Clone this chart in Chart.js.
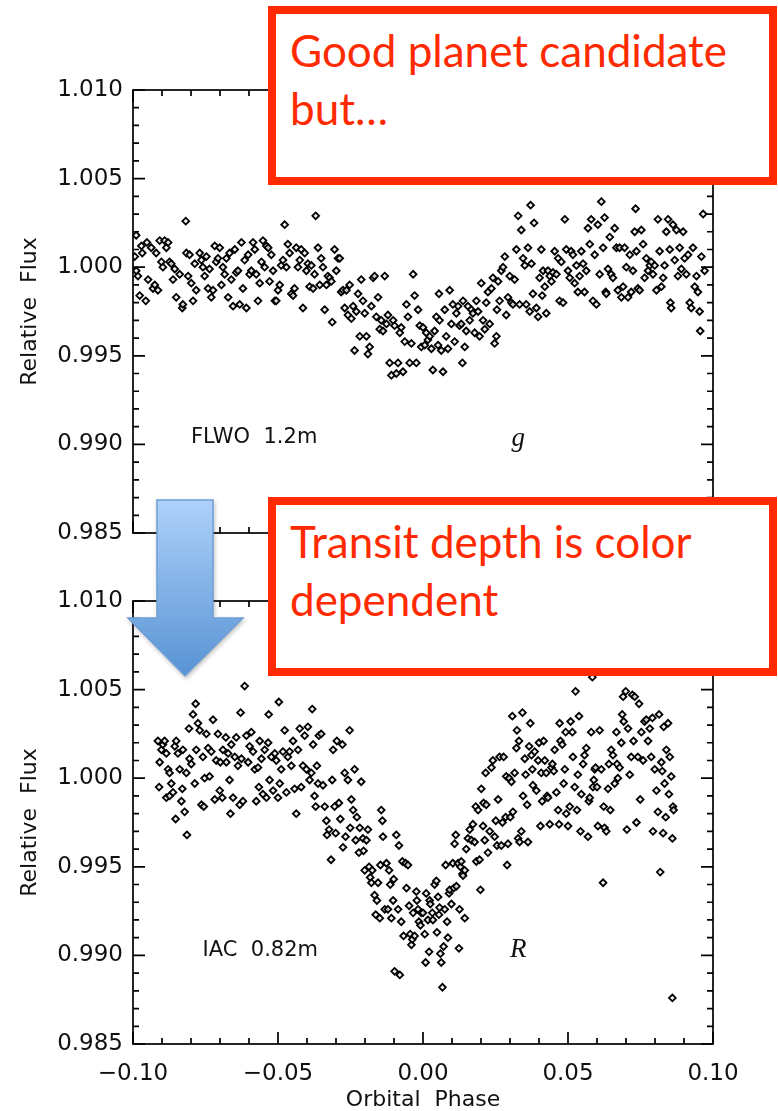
<!DOCTYPE html>
<html>
<head>
<meta charset="utf-8">
<script src="https://cdn.jsdelivr.net/npm/chart.js@4.4.1/dist/chart.umd.min.js"></script>
<style>
  html, body { margin: 0; padding: 0; background: #fff; }
  body { position: relative; width: 778px; height: 1111px; overflow: hidden; }
  canvas { position: absolute; left: 0; }
  #gChart { top: 0; }
  #rChart { top: 560px; }
  .note {
    position: absolute; left: 268px; width: 493px; height: 163px;
    border: 8px solid #ff2a00; background: #fff;
    font-family: Lato, 'Open Sans', sans-serif; font-size: 44px; line-height: 58px; color: #ff2a00;
  }
  .note p { margin: 0; padding: 7px 0 0 14px; }
  #arrow { position: absolute; left: 0; top: 0; }
</style>
</head>
<body>
<canvas id="gChart" width="778" height="560"></canvas>
<canvas id="rChart" width="778" height="551"></canvas>

<svg id="arrow" width="778" height="1111">
  <defs>
    <linearGradient id="blue" x1="0" y1="500" x2="0" y2="676" gradientUnits="userSpaceOnUse">
      <stop offset="0" stop-color="#aed1fa"/>
      <stop offset="1" stop-color="#5893d4"/>
    </linearGradient>
    <filter id="shadow" x="-20%" y="-20%" width="140%" height="140%">
      <feDropShadow dx="1" dy="2" stdDeviation="2" flood-color="#000" flood-opacity="0.25"/>
    </filter>
  </defs>
  <polygon points="157,500 213,500 213,618 243,618 185,676 128,618 157,618"
           fill="url(#blue)" stroke="#6d9dd2" stroke-width="1.5" filter="url(#shadow)"/>
</svg>

<div class="note" style="top:6px"><p>Good planet candidate<br>but…</p></div>
<div class="note" style="top:497px"><p>Transit depth is color<br>dependent</p></div>

<script>
// axis ticks
const xTicks = [-0.10, -0.05, 0.00, 0.05, 0.10];
const xTickLabels = ['\u22120.10', '\u22120.05', '0.00', '0.05', '0.10'];
const yTicks = [0.985, 0.990, 0.995, 1.000, 1.005, 1.010];

// [orbital phase, relative flux], FLWO 1.2m g band
const gPoints = [
  [-0.0989,1.0018],[-0.0994,1.0006],[-0.0983,0.9995],[-0.0989,0.9998],[-0.0977,0.9984],[-0.0968,1.0008],[-0.0971,1.0012],[-0.0952,1.0014],[-0.0956,0.9981],[-0.0948,0.9993],
  [-0.0937,1.0011],[-0.0931,0.9988],[-0.0925,0.9990],[-0.0920,1.0008],[-0.0914,0.9987],[-0.0908,1.0015],[-0.0902,1.0003],[-0.0897,1.0000],[-0.0891,1.0015],[-0.0885,1.0011],
  [-0.0879,1.0014],[-0.0874,1.0003],[-0.0868,1.0002],[-0.0862,0.9993],[-0.0856,0.9999],[-0.0851,0.9983],[-0.0839,0.9996],[-0.0830,0.9977],[-0.0828,0.9979],[-0.0818,1.0026],
  [-0.0816,1.0008],[-0.0810,0.9995],[-0.0805,1.0007],[-0.0799,0.9991],[-0.0793,0.9981],[-0.0787,1.0002],[-0.0782,0.9987],[-0.0770,1.0008],[-0.0764,1.0004],[-0.0759,1.0000],
  [-0.0753,0.9995],[-0.0747,1.0006],[-0.0741,0.9988],[-0.0736,0.9999],[-0.0730,0.9983],[-0.0724,0.9987],[-0.0718,1.0012],[-0.0713,1.0003],[-0.0707,1.0005],[-0.0701,1.0011],
  [-0.0695,0.9990],[-0.0690,1.0000],[-0.0684,0.9996],[-0.0678,1.0005],[-0.0672,0.9983],[-0.0667,1.0008],[-0.0661,0.9993],[-0.0655,0.9978],[-0.0649,1.0010],[-0.0644,0.9997],
  [-0.0638,0.9998],[-0.0632,0.9979],[-0.0626,1.0014],[-0.0621,0.9988],[-0.0615,1.0004],[-0.0609,0.9977],[-0.0603,1.0007],[-0.0598,0.9996],[-0.0592,0.9998],[-0.0586,1.0014],
  [-0.0580,1.0010],[-0.0575,0.9996],[-0.0569,0.9981],[-0.0563,0.9991],[-0.0557,1.0003],[-0.0552,1.0015],[-0.0546,1.0000],[-0.0540,1.0012],[-0.0534,1.0011],[-0.0529,0.9992],
  [-0.0523,1.0007],[-0.0517,0.9998],[-0.0511,0.9981],[-0.0506,0.9981],[-0.0500,0.9987],[-0.0494,0.9990],[-0.0489,1.0001],[-0.0483,1.0004],[-0.0477,1.0024],[-0.0471,1.0000],
  [-0.0466,1.0013],[-0.0460,1.0008],[-0.0454,0.9985],[-0.0448,0.9984],[-0.0443,0.9988],[-0.0437,1.0011],[-0.0431,1.0000],[-0.0425,1.0004],[-0.0420,1.0010],[-0.0414,0.9977],
  [-0.0408,1.0008],[-0.0402,0.9998],[-0.0397,1.0002],[-0.0391,0.9989],[-0.0385,1.0001],[-0.0379,0.9988],[-0.0374,0.9996],[-0.0370,1.0029],[-0.0362,1.0011],[-0.0356,0.9990],
  [-0.0351,1.0005],[-0.0345,1.0000],[-0.0339,0.9976],[-0.0333,0.9990],[-0.0328,0.9995],[-0.0322,0.9994],[-0.0316,0.9992],[-0.0313,0.9969],[-0.0305,1.0010],[-0.0299,0.9998],
  [-0.0293,1.0005],[-0.0287,1.0005],[-0.0282,0.9986],[-0.0276,0.9987],[-0.0270,0.9977],[-0.0264,0.9987],[-0.0259,0.9973],[-0.0253,0.9990],[-0.0247,0.9971],[-0.0241,0.9978],
  [-0.0236,0.9953],[-0.0230,0.9975],[-0.0224,0.9985],[-0.0218,0.9961],[-0.0213,0.9993],[-0.0207,0.9981],[-0.0201,0.9974],[-0.0195,0.9961],[-0.0190,0.9951],[-0.0184,0.9955],
  [-0.0178,0.9978],[-0.0172,0.9994],[-0.0167,0.9995],[-0.0161,0.9972],[-0.0155,0.9983],[-0.0149,0.9965],[-0.0144,0.9970],[-0.0138,0.9964],[-0.0132,0.9995],[-0.0126,0.9968],
  [-0.0121,0.9973],[-0.0115,0.9946],[-0.0109,0.9939],[-0.0103,0.9970],[-0.0098,0.9967],[-0.0092,0.9940],[-0.0086,0.9946],[-0.0080,0.9963],[-0.0075,0.9966],[-0.0069,0.9941],
  [-0.0063,0.9958],[-0.0057,0.9979],[-0.0052,0.9972],[-0.0046,0.9946],[-0.0040,0.9957],[-0.0034,0.9996],[-0.0029,0.9984],[-0.0023,0.9946],[-0.0017,0.9976],[-0.0011,0.9967],
  [-0.0006,0.9955],
  [0.0000,0.9966],[0.0006,0.9956],[0.0011,0.9963],[0.0017,0.9959],[0.0023,0.9961],[0.0029,0.9954],[0.0034,0.9942],[0.0040,0.9964],[0.0046,0.9972],[0.0052,0.9956],
  [0.0055,0.9985],[0.0057,0.9970],[0.0063,0.9953],[0.0069,0.9941],[0.0075,0.9976],[0.0080,0.9961],[0.0086,0.9954],[0.0092,0.9987],[0.0098,0.9968],[0.0103,0.9979],
  [0.0109,0.9958],[0.0115,0.9974],[0.0121,0.9978],[0.0126,0.9967],[0.0132,0.9968],[0.0136,0.9946],[0.0138,0.9981],[0.0144,0.9955],[0.0149,0.9964],[0.0155,0.9978],
  [0.0161,0.9970],[0.0167,0.9976],[0.0172,0.9974],[0.0178,0.9963],[0.0184,0.9981],[0.0190,0.9975],[0.0195,0.9961],[0.0201,0.9991],[0.0207,0.9970],[0.0213,0.9965],
  [0.0218,0.9980],[0.0224,0.9986],[0.0230,0.9968],[0.0236,0.9988],[0.0241,0.9994],[0.0247,0.9957],[0.0253,0.9961],[0.0255,0.9976],[0.0259,0.9992],[0.0264,0.9981],
  [0.0270,0.9998],[0.0276,1.0000],[0.0282,1.0006],[0.0287,0.9973],[0.0293,0.9983],[0.0299,0.9995],[0.0305,0.9980],[0.0310,0.9979],[0.0316,0.9993],[0.0322,1.0010],
  [0.0328,1.0029],[0.0333,0.9979],[0.0339,1.0021],[0.0345,1.0005],[0.0351,1.0001],[0.0356,0.9979],[0.0362,1.0011],[0.0368,0.9975],[0.0371,1.0035],[0.0374,1.0002],
  [0.0379,0.9985],[0.0383,1.0025],[0.0391,0.9977],[0.0397,0.9972],[0.0402,0.9994],[0.0408,1.0010],[0.0411,0.9984],[0.0414,0.9998],[0.0420,0.9989],[0.0425,0.9974],
  [0.0431,0.9998],[0.0437,0.9995],[0.0443,0.9992],[0.0448,0.9997],[0.0454,1.0009],[0.0460,0.9996],[0.0466,1.0005],[0.0471,0.9981],[0.0477,1.0003],[0.0483,0.9980],
  [0.0489,1.0027],[0.0494,1.0010],[0.0500,0.9998],[0.0506,0.9994],[0.0511,1.0009],[0.0517,1.0007],[0.0523,0.9991],[0.0529,1.0001],[0.0534,0.9986],[0.0540,0.9995],
  [0.0546,1.0009],[0.0552,1.0002],[0.0557,0.9986],[0.0563,0.9998],[0.0569,1.0022],[0.0575,1.0013],[0.0580,1.0027],[0.0586,0.9981],[0.0592,1.0007],[0.0598,0.9979],
  [0.0603,1.0024],[0.0609,0.9996],[0.0615,1.0037],[0.0621,1.0011],[0.0626,1.0028],[0.0630,0.9986],[0.0632,0.9985],[0.0638,0.9999],[0.0644,1.0017],[0.0649,0.9996],
  [0.0655,0.9994],[0.0661,1.0022],[0.0667,1.0011],[0.0672,0.9987],[0.0678,1.0011],[0.0684,0.9983],[0.0690,0.9989],[0.0695,1.0011],[0.0701,1.0000],[0.0707,0.9983],
  [0.0713,1.0007],[0.0718,0.9986],[0.0724,0.9998],[0.0730,1.0020],[0.0733,1.0033],[0.0736,1.0009],[0.0741,0.9988],[0.0747,0.9987],[0.0753,1.0021],[0.0759,1.0013],
  [0.0764,0.9994],[0.0770,1.0005],[0.0776,0.9998],[0.0782,1.0001],[0.0787,1.0003],[0.0793,0.9996],[0.0799,1.0001],[0.0805,0.9987],[0.0810,1.0027],[0.0816,1.0009],
  [0.0822,0.9989],[0.0828,0.9994],[0.0833,1.0001],[0.0839,1.0020],[0.0845,1.0027],[0.0851,1.0010],[0.0853,0.9980],[0.0856,0.9977],[0.0862,1.0024],[0.0868,1.0004],
  [0.0874,1.0021],[0.0879,0.9995],[0.0885,1.0011],[0.0891,0.9999],[0.0897,1.0020],[0.0902,1.0005],[0.0908,0.9996],[0.0914,1.0007],[0.0920,0.9980],[0.0925,0.9977],
  [0.0931,1.0011],[0.0937,0.9989],[0.0943,0.9995],[0.0948,0.9986],[0.0954,0.9975],[0.0956,0.9964],[0.0960,1.0006],[0.0966,1.0030],[0.0971,0.9998]
];

// IAC 0.82m R band
const rPoints = [
  [-0.0914,1.0021],[-0.0908,1.0009],[-0.0910,0.9995],[-0.0902,1.0016],[-0.0897,1.0019],[-0.0891,1.0021],[-0.0885,0.9989],[-0.0885,1.0014],[-0.0879,1.0005],[-0.0874,1.0003],
  [-0.0874,0.9990],[-0.0868,0.9997],[-0.0862,0.9992],[-0.0856,1.0018],[-0.0853,0.9977],[-0.0851,1.0021],[-0.0845,1.0014],[-0.0839,1.0005],[-0.0833,0.9987],[-0.0828,1.0016],
  [-0.0830,0.9994],[-0.0822,0.9981],[-0.0816,1.0003],[-0.0814,0.9968],[-0.0807,1.0028],[-0.0805,1.0011],[-0.0799,1.0008],[-0.0793,1.0036],[-0.0787,0.9997],[-0.0784,1.0042],
  [-0.0782,1.0016],[-0.0776,1.0031],[-0.0770,1.0027],[-0.0764,0.9985],[-0.0759,1.0012],[-0.0756,0.9984],[-0.0753,1.0000],[-0.0747,1.0025],[-0.0741,1.0017],[-0.0736,1.0001],
  [-0.0730,1.0015],[-0.0724,1.0033],[-0.0718,0.9988],[-0.0713,1.0010],[-0.0707,1.0025],[-0.0701,0.9993],[-0.0699,1.0009],[-0.0692,0.9989],[-0.0690,1.0016],[-0.0680,1.0023],
  [-0.0678,1.0009],[-0.0672,1.0014],[-0.0667,0.9999],[-0.0664,0.9980],[-0.0661,1.0019],[-0.0655,0.9989],[-0.0649,1.0012],[-0.0644,1.0023],[-0.0638,1.0007],[-0.0632,0.9985],
  [-0.0629,1.0037],[-0.0626,1.0011],[-0.0621,0.9987],[-0.0615,1.0052],[-0.0609,1.0024],[-0.0603,1.0009],[-0.0598,1.0018],[-0.0592,1.0026],[-0.0586,1.0015],[-0.0580,1.0005],
  [-0.0575,0.9987],[-0.0569,1.0006],[-0.0566,0.9995],[-0.0563,1.0021],[-0.0557,1.0011],[-0.0552,0.9991],[-0.0546,1.0016],[-0.0540,0.9989],[-0.0534,1.0020],[-0.0532,1.0036],
  [-0.0529,0.9999],[-0.0523,1.0012],[-0.0517,0.9993],[-0.0511,1.0014],[-0.0506,1.0010],[-0.0500,0.9989],[-0.0497,1.0043],[-0.0494,0.9997],[-0.0489,1.0005],[-0.0483,1.0015],
  [-0.0477,1.0027],[-0.0471,0.9992],[-0.0466,1.0012],[-0.0460,1.0015],[-0.0454,1.0007],[-0.0448,1.0021],[-0.0443,0.9994],[-0.0437,0.9980],[-0.0431,1.0016],[-0.0425,1.0028],
  [-0.0420,0.9995],[-0.0414,1.0007],[-0.0408,1.0024],[-0.0402,1.0005],[-0.0397,1.0029],[-0.0391,0.9999],[-0.0385,1.0003],[-0.0382,1.0039],[-0.0379,1.0019],[-0.0374,0.9990],
  [-0.0370,0.9984],[-0.0366,1.0007],[-0.0362,0.9997],[-0.0359,1.0024],[-0.0351,1.0025],[-0.0345,0.9996],[-0.0339,0.9984],[-0.0333,0.9976],[-0.0331,0.9968],[-0.0324,0.9971],
  [-0.0317,0.9954],[-0.0313,0.9999],[-0.0310,1.0016],[-0.0305,0.9984],[-0.0301,0.9969],[-0.0297,1.0021],[-0.0290,0.9986],[-0.0285,0.9977],[-0.0278,1.0019],[-0.0276,0.9961],
  [-0.0270,1.0003],[-0.0267,0.9967],[-0.0259,0.9999],[-0.0253,1.0027],[-0.0251,0.9972],[-0.0247,0.9988],[-0.0241,0.9982],[-0.0236,1.0005],[-0.0232,0.9965],[-0.0228,0.9978],
  [-0.0221,0.9958],[-0.0218,0.9972],[-0.0213,0.9998],[-0.0207,0.9966],[-0.0205,0.9959],[-0.0201,0.9948],[-0.0195,0.9965],[-0.0190,0.9971],[-0.0186,0.9950],[-0.0182,0.9944],
  [-0.0178,0.9941],[-0.0175,0.9948],[-0.0167,0.9934],[-0.0163,0.9923],[-0.0159,0.9931],[-0.0155,0.9941],[-0.0149,0.9921],[-0.0147,0.9951],[-0.0144,0.9982],[-0.0140,0.9976],
  [-0.0138,0.9967],[-0.0132,0.9926],[-0.0126,0.9952],[-0.0121,0.9926],[-0.0117,0.9948],[-0.0113,0.9940],[-0.0109,0.9921],[-0.0103,0.9931],[-0.0101,0.9943],[-0.0098,0.9891],
  [-0.0092,0.9968],[-0.0086,0.9926],[-0.0083,0.9962],[-0.0080,0.9889],[-0.0075,0.9919],[-0.0071,0.9953],[-0.0067,0.9911],[-0.0060,0.9952],[-0.0057,0.9938],[-0.0052,0.9951],
  [-0.0048,0.9928],[-0.0044,0.9912],[-0.0040,0.9906],[-0.0037,0.9909],[-0.0034,0.9924],[-0.0029,0.9911],[-0.0023,0.9936],[-0.0021,0.9931],[-0.0017,0.9926],[-0.0014,0.9919],
  [-0.0009,0.9917],[-0.0006,0.9924],
  [0.0000,0.9924],[0.0006,0.9912],[0.0009,0.9896],[0.0011,0.9935],[0.0017,0.9920],[0.0021,0.9902],[0.0023,0.9931],[0.0025,0.9929],[0.0032,0.9924],[0.0034,0.9920],
  [0.0040,0.9940],[0.0046,0.9942],[0.0048,0.9913],[0.0052,0.9933],[0.0055,0.9923],[0.0057,0.9927],[0.0060,0.9901],[0.0063,0.9896],[0.0067,0.9882],[0.0071,0.9905],
  [0.0075,0.9926],[0.0078,0.9951],[0.0083,0.9919],[0.0086,0.9910],[0.0090,0.9935],[0.0092,0.9937],[0.0098,0.9929],[0.0103,0.9952],[0.0106,0.9938],[0.0109,0.9963],
  [0.0113,0.9968],[0.0115,0.9939],[0.0121,0.9952],[0.0124,0.9904],[0.0126,0.9926],[0.0129,0.9950],[0.0132,0.9953],[0.0136,0.9946],[0.0138,0.9945],[0.0144,0.9921],
  [0.0144,0.9948],[0.0149,0.9960],[0.0155,0.9966],[0.0161,0.9971],[0.0167,0.9965],[0.0172,0.9974],[0.0178,0.9964],[0.0182,0.9984],[0.0184,0.9953],[0.0190,0.9982],
  [0.0195,0.9954],[0.0198,0.9937],[0.0201,0.9994],[0.0207,0.9973],[0.0209,0.9986],[0.0213,0.9965],[0.0216,1.0003],[0.0218,0.9985],[0.0224,0.9958],[0.0230,0.9970],
  [0.0236,1.0006],[0.0241,1.0010],[0.0247,0.9967],[0.0251,0.9976],[0.0255,0.9962],[0.0259,0.9988],[0.0264,1.0012],[0.0270,0.9962],[0.0274,0.9975],[0.0278,1.0012],
  [0.0285,0.9978],[0.0287,1.0001],[0.0290,0.9951],[0.0293,0.9963],[0.0297,1.0000],[0.0301,0.9978],[0.0305,0.9998],[0.0308,1.0035],[0.0310,0.9981],[0.0316,1.0003],
  [0.0322,1.0017],[0.0324,1.0027],[0.0328,0.9966],[0.0331,1.0021],[0.0333,0.9964],[0.0339,0.9970],[0.0343,1.0037],[0.0345,0.9990],[0.0351,1.0011],[0.0354,1.0002],
  [0.0359,0.9985],[0.0362,0.9964],[0.0366,1.0018],[0.0370,1.0031],[0.0374,1.0013],[0.0377,1.0005],[0.0379,0.9996],[0.0385,1.0015],[0.0391,0.9993],[0.0397,1.0010],
  [0.0400,1.0020],[0.0405,0.9973],[0.0408,1.0003],[0.0411,0.9987],[0.0416,1.0021],[0.0420,1.0010],[0.0425,1.0003],[0.0428,0.9990],[0.0431,0.9989],[0.0437,0.9974],
  [0.0443,1.0006],[0.0446,1.0008],[0.0451,1.0004],[0.0454,1.0016],[0.0460,0.9992],[0.0466,0.9982],[0.0469,0.9974],[0.0471,1.0031],[0.0474,1.0021],[0.0480,1.0019],
  [0.0485,0.9997],[0.0489,1.0005],[0.0492,1.0026],[0.0494,0.9980],[0.0500,0.9973],[0.0506,0.9984],[0.0509,1.0032],[0.0515,1.0026],[0.0517,1.0012],[0.0523,0.9995],
  [0.0526,1.0049],[0.0531,0.9982],[0.0534,1.0002],[0.0538,1.0035],[0.0543,0.9970],[0.0546,0.9991],[0.0552,1.0008],[0.0557,1.0013],[0.0563,1.0017],[0.0569,0.9967],
  [0.0572,0.9987],[0.0575,0.9989],[0.0580,1.0026],[0.0584,1.0057],[0.0586,0.9995],[0.0589,0.9999],[0.0592,1.0005],[0.0595,1.0006],[0.0600,0.9995],[0.0603,0.9973],
  [0.0609,1.0027],[0.0615,1.0005],[0.0621,0.9941],[0.0623,0.9984],[0.0626,0.9972],[0.0632,0.9970],[0.0638,0.9994],[0.0641,1.0008],[0.0646,0.9982],[0.0649,1.0016],
  [0.0655,1.0013],[0.0661,0.9997],[0.0667,1.0026],[0.0669,1.0008],[0.0672,1.0000],[0.0678,1.0006],[0.0684,1.0020],[0.0687,1.0036],[0.0690,1.0046],[0.0692,1.0032],
  [0.0699,1.0049],[0.0703,0.9971],[0.0707,1.0028],[0.0713,1.0002],[0.0718,1.0012],[0.0722,1.0047],[0.0726,1.0021],[0.0730,1.0046],[0.0736,0.9975],[0.0741,1.0012],
  [0.0745,1.0042],[0.0749,0.9988],[0.0753,1.0026],[0.0759,1.0010],[0.0764,1.0032],[0.0770,1.0033],[0.0776,1.0021],[0.0782,1.0028],[0.0787,1.0012],[0.0791,1.0034],
  [0.0793,0.9970],[0.0799,1.0005],[0.0805,0.9993],[0.0810,0.9981],[0.0814,1.0036],[0.0818,0.9947],[0.0822,1.0009],[0.0825,1.0004],[0.0828,0.9969],[0.0830,1.0029],
  [0.0833,0.9997],[0.0837,0.9978],[0.0839,1.0016],[0.0845,1.0031],[0.0848,0.9991],[0.0851,1.0012],[0.0856,1.0001],[0.0860,0.9966],[0.0862,0.9984],[0.0864,0.9982],
  [0.0860,0.9876]
];

const tickFont = { family: 'DejaVu Sans', size: 23 };
const titleFont = { family: 'DejaVu Sans', size: 22 };

// IDL style box: frame plus inward major/minor ticks on all four sides
const frameTicks = {
  id: 'frameTicks',
  afterDatasetsDraw(chart) {
    const { ctx, chartArea: a, scales: { x, y } } = chart;
    ctx.save();
    ctx.strokeStyle = '#000';
    ctx.lineWidth = 1.7;
    ctx.strokeRect(a.left, a.top, a.right - a.left, a.bottom - a.top);
    ctx.beginPath();
    for (let k = 0; k <= 25; k++) {
      const py = y.getPixelForValue(yTicks[0] + k * 0.001);
      const len = k % 5 === 0 ? 12 : 6;
      ctx.moveTo(a.left, py); ctx.lineTo(a.left + len, py);
      ctx.moveTo(a.right, py); ctx.lineTo(a.right - len, py);
    }
    for (let k = 0; k <= 20; k++) {
      const px = x.getPixelForValue(xTicks[0] + k * 0.01);
      const len = k % 5 === 0 ? 12 : 6;
      ctx.moveTo(px, a.bottom); ctx.lineTo(px, a.bottom - len);
      ctx.moveTo(px, a.top); ctx.lineTo(px, a.top + len);
    }
    ctx.stroke();
    ctx.restore();
  }
};

// telescope / filter labels placed in data coordinates
const notes = {
  id: 'notes',
  afterDatasetsDraw(chart, args, opts) {
    const { ctx, scales: { x, y } } = chart;
    ctx.save();
    ctx.fillStyle = '#111';
    ctx.textBaseline = 'middle';
    ctx.textAlign = 'left';
    ctx.font = '21px "DejaVu Sans"';
    ctx.fillText(opts.site, x.getPixelForValue(opts.siteAt[0]), y.getPixelForValue(opts.siteAt[1]));
    ctx.font = 'italic 27px "Liberation Serif"';
    ctx.fillText(opts.band, x.getPixelForValue(opts.bandAt[0]), y.getPixelForValue(opts.bandAt[1]));
    ctx.restore();
  }
};

function makeChart(id, points, opts) {
  return new Chart(document.getElementById(id), {
    type: 'scatter',
    data: {
      datasets: [{
        data: points.map(p => ({ x: p[0], y: p[1] })),
        pointStyle: 'rectRot',
        pointRadius: 3.4,
        pointBorderWidth: 1.8,
        pointBorderColor: '#000',
        pointBackgroundColor: 'rgba(235,235,235,0.8)'
      }]
    },
    options: {
      responsive: false,
      animation: false,
      layout: { padding: { top: opts.padTop, right: 65, left: 0, bottom: 0 } },
      plugins: {
        legend: { display: false },
        tooltip: { enabled: false },
        notes: opts.notes
      },
      scales: {
        x: {
          type: 'linear',
          min: -0.1,
          max: 0.1,
          afterBuildTicks: s => { s.ticks = xTicks.map(v => ({ value: v })); },
          afterFit: s => { s.height = opts.xHeight; },
          grid: { display: false, drawTicks: false },
          border: { display: false },
          ticks: {
            display: opts.xLabels,
            padding: 16,
            color: '#111',
            font: tickFont,
            maxRotation: 0,
            callback: (v, i) => xTickLabels[i]
          },
          title: {
            display: opts.xLabels,
            text: 'Orbital  Phase',
            color: '#111',
            font: titleFont,
            padding: { top: 0, bottom: -2 }
          }
        },
        y: {
          min: 0.985,
          max: 1.010,
          afterBuildTicks: s => { s.ticks = yTicks.map(v => ({ value: v })); },
          afterFit: s => { s.width = 133; },
          grid: { display: false, drawTicks: false },
          border: { display: false },
          ticks: {
            padding: 10,
            color: '#111',
            font: tickFont,
            callback: v => v.toFixed(3)
          },
          title: {
            display: true,
            text: 'Relative  Flux',
            color: '#111',
            font: titleFont,
            padding: { top: 17, bottom: 0 }
          }
        }
      }
    },
    plugins: [frameTicks, notes]
  });
}

makeChart('gChart', gPoints, {
  padTop: 90, xHeight: 27, xLabels: false,
  notes: { site: 'FLWO  1.2m', siteAt: [-0.080, 0.9904], band: 'g', bandAt: [0.0305, 0.9903] }
});

makeChart('rChart', rPoints, {
  padTop: 41, xHeight: 67, xLabels: true,
  notes: { site: 'IAC  0.82m', siteAt: [-0.076, 0.9903], band: 'R', bandAt: [0.030, 0.9903] }
});
</script>
</body>
</html>
